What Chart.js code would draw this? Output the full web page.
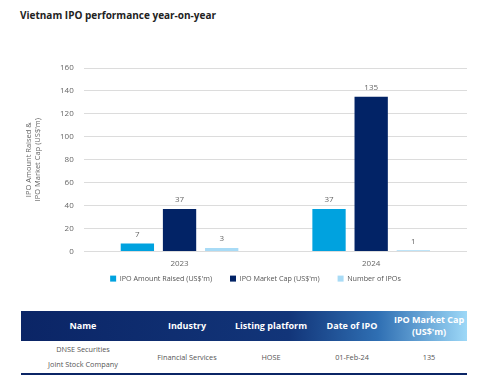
<!DOCTYPE html>
<html>
<head>
<meta charset="utf-8">
<script src="https://cdn.jsdelivr.net/npm/chart.js@4.4.1/dist/chart.umd.min.js"></script>
<style>
  body { margin: 0; background: #fff; font-family: "Open Sans", sans-serif; }
  #wrap { position: relative; width: 478px; height: 375px; overflow: hidden; }
  #title { position: absolute; left: 20px; top: 8px; font-size: 10px; font-weight: bold; color: #222; }
  #box { position: absolute; left: 0; top: 0; width: 478px; height: 293px; }
  table { position: absolute; left: 21px; top: 311px; width: 446px; border-collapse: collapse; font-size: 7.3px; color: #555; }
  th { color: #fff; font-weight: bold; font-size: 9px; height: 30px; padding: 0; line-height: 12px; }
  thead tr { background: linear-gradient(to right, #0b2566 0%, #123579 60%, #2f6fb3 80%, #9dd8f7 100%); }
  td { text-align: center; height: 32px; line-height: 15px; border-bottom: 2px solid #0b2566; padding: 0; }
</style>
</head>
<body>
<div id="wrap">
  <div id="title">Vietnam IPO performance year-on-year</div>
  <div id="box"><canvas id="myChart"></canvas></div>
  <table>
    <thead>
      <tr>
        <th style="width:124px">Name</th>
        <th style="width:84px">Industry</th>
        <th style="width:84px">Listing platform</th>
        <th style="width:78px">Date of IPO</th>
        <th>IPO Market Cap<br>(US$'m)</th>
      </tr>
    </thead>
    <tbody>
      <tr>
        <td>DNSE Securities<br>Joint Stock Company</td>
        <td>Financial Services</td>
        <td>HOSE</td>
        <td>01-Feb-24</td>
        <td>135</td>
      </tr>
    </tbody>
  </table>
</div>
<script>
const years = ["2023", "2024"];
const amountRaised = [7, 37];
const marketCap = [37, 135];
const numberOfIpos = [3, 1];
const yTicks = [0, 20, 40, 60, 80, 100, 120, 140, 160];

// simple value labels on top of every bar
const barLabels = {
    id: 'barLabels',
    afterDatasetsDraw(chart) {
        const ctx = chart.ctx;
        ctx.save();
        ctx.font = '8px "Open Sans"';
        ctx.fillStyle = '#666';
        ctx.textAlign = 'center';
        ctx.textBaseline = 'bottom';
        chart.data.datasets.forEach(function(ds, i) {
            chart.getDatasetMeta(i).data.forEach(function(bar, j) {
                ctx.fillText(ds.data[j], bar.x, bar.y - 5);
            });
        });
        ctx.restore();
    }
};

// legend: wide gaps between items but a short box height
const legendFit = {
    id: 'legendFit',
    beforeLayout(chart) {
        const lg = chart.legend;
        if (lg && !lg._patched) {
            const fit = lg.fit;
            lg.fit = function() { fit.call(this); this.height = 24; };
            lg._patched = true;
        }
    },
    beforeDraw(chart) {
        const lg = chart.legend;
        lg.top -= 12;
        lg.left += 12;
        lg.right += 12;
    }
};

new Chart("myChart", {
    type: "bar",
    data: {
        labels: years,
        datasets: [
            { label: "IPO Amount Raised (US$'m)", data: amountRaised, backgroundColor: "#00a2df" },
            { label: "IPO Market Cap (US$'m)", data: marketCap, backgroundColor: "#022366" },
            { label: "Number of IPOs", data: numberOfIpos, backgroundColor: "#a8dbf6" }
        ]
    },
    options: {
        responsive: true,
        maintainAspectRatio: false,
        animation: false,
        layout: { padding: { top: 68, right: 11, left: 20, bottom: 0 } },
        datasets: { bar: { categoryPercentage: 0.66, barPercentage: 0.79 } },
        plugins: {
            legend: {
                position: 'bottom',
                labels: {
                    boxWidth: 6, boxHeight: 6, padding: 18,
                    color: '#555',
                    font: { family: 'Open Sans', size: 7.2 }
                }
            },
            tooltip: { enabled: false }
        },
        scales: {
            x: {
                grid: { display: false },
                border: { display: false },
                ticks: { color: '#666', font: { family: 'Open Sans', size: 8 }, padding: 0 }
            },
            y: {
                min: 0, max: 160,
                afterBuildTicks: function(axis) {
                    axis.ticks = yTicks.map(function(v) { return { value: v }; });
                },
                grid: { color: '#dcdcdc', drawTicks: false },
                border: { display: false },
                ticks: { color: '#666', font: { family: 'Open Sans', size: 8 }, padding: 10 },
                title: {
                    display: true,
                    text: ["IPO Amount Raised &", "IPO Market Cap (US$'m)"],
                    color: '#666',
                    font: { family: 'Open Sans', size: 7.5 },
                    padding: { bottom: 8 }
                }
            }
        }
    },
    plugins: [barLabels, legendFit]
});
</script>
</body>
</html>
